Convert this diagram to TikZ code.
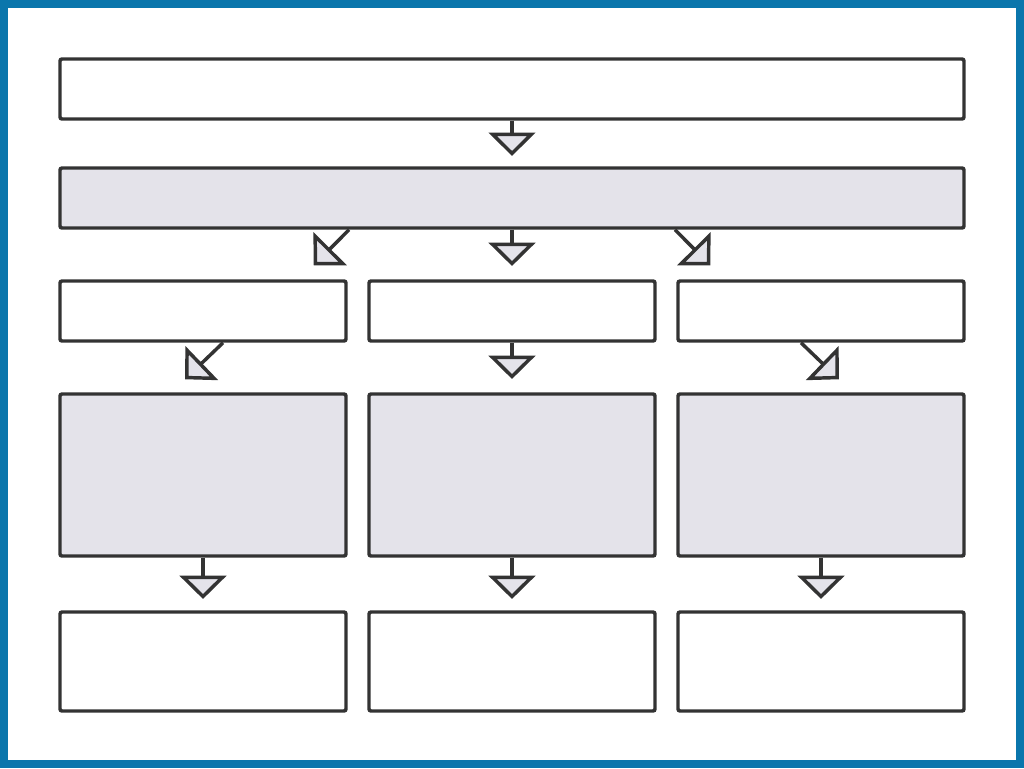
\documentclass[tikz,border=0pt]{standalone}
\usepackage{xcolor}
\definecolor{Frame}{HTML}{0A76AC}
\definecolor{Edge}{HTML}{333333}
\definecolor{Shade}{HTML}{E4E3EA}
\usepackage{tikz}
\usetikzlibrary{arrows.meta,positioning,calc}

\begin{document}
\begin{tikzpicture}[
  x=0.75pt,y=-0.75pt,
  node distance=37.15pt and 14.65pt,
  box/.style={draw=Edge,line width=2.6pt,rounded corners=1.5pt,fill=white,
    minimum width=214.5pt,minimum height=45pt,inner sep=0pt},
  wide/.style={box,minimum width=678pt},
  tall/.style={box,fill=Shade,minimum height=121.5pt},
  low/.style={box,minimum height=74.25pt},
  flow/.style={-{Triangle[length=17.5pt,width=35pt,fill=Shade]},line width=2.6pt,draw=Edge}
]
% frame
\fill[Frame] (0,0) rectangle (1024,768);
\fill[white] (8,8) rectangle (1016,760);
\useasboundingbox (0,0) rectangle (1024,768);

\node[wide] (top) at (512,89) {};
\node[wide,fill=Shade,below=34.15pt of top] (mid) {};

\node[box,below=of mid] (r3b) {};
\node[box,left=of r3b] (r3a) {};
\node[box,right=of r3b] (r3c) {};

\node[tall,below=of r3a] (r4a) {};
\node[tall,below=of r3b] (r4b) {};
\node[tall,below=of r3c] (r4c) {};

\node[low,below=39.4pt of r4a] (r5a) {};
\node[low,below=39.4pt of r4b] (r5b) {};
\node[low,below=39.4pt of r4c] (r5c) {};

\draw[flow,shorten >=7.8pt] (top) -- (mid);
\draw[flow] ($(mid.south)+(-163,0)$) -- ($(r3a.north east)+(-34,-14)$);
\draw[flow,shorten >=10pt] (mid) -- (r3b);
\draw[flow] ($(mid.south)+(163,0)$) -- ($(r3c.north west)+(34,-14)$);

\draw[flow] ($(r3a.south)+(20,0)$) -- ($(r4a.north)+(-18,-13)$);
\draw[flow,shorten >=10pt] (r3b) -- (r4b);
\draw[flow] ($(r3c.south)+(-20,0)$) -- ($(r4c.north)+(18,-13)$);

\draw[flow,shorten >=8.5pt] (r4a) -- (r5a);
\draw[flow,shorten >=8.5pt] (r4b) -- (r5b);
\draw[flow,shorten >=8.5pt] (r4c) -- (r5c);
\end{tikzpicture}
\end{document}
